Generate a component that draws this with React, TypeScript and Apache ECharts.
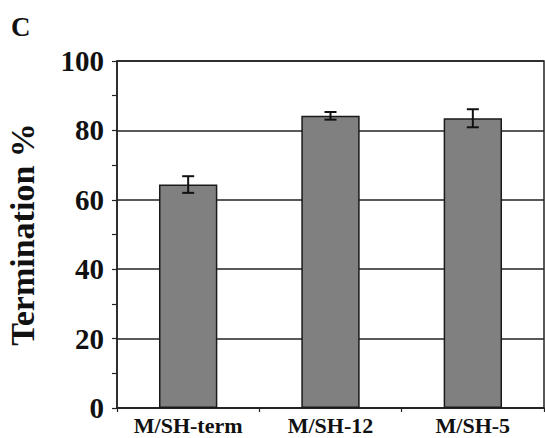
import React, { useEffect, useRef } from "react";
import * as echarts from "echarts";

const categories = ["M/SH-term", "M/SH-12", "M/SH-5"];
const values = [64.4, 84.2, 83.5];
const errors = [2.4, 1.1, 2.6];
const yTicks = [0, 20, 40, 60, 80, 100];

const FONT = "'Liberation Serif', 'Times New Roman', serif";

export default function App() {
  const ref = useRef<HTMLDivElement>(null);
  useEffect(() => {
    document.body.style.margin = "0";
    if (!ref.current) return;
    const chart = echarts.init(ref.current, null, { renderer: "svg" });
    const errData = categories.map((c, i) => [i, values[i] - errors[i], values[i] + errors[i]]);
    chart.setOption({
      animation: false,
      backgroundColor: "#ffffff",
      graphic: [
        {
          type: "text",
          left: 11,
          top: 13,
          style: { text: "C", font: `bold 27px ${FONT}`, fill: "#111" },
        },
      ],
      grid: {
        left: 117,
        top: 61,
        right: 1,
        bottom: 30,
        show: true,
        borderColor: "#222",
        borderWidth: 1.5,
        backgroundColor: "transparent",
        containLabel: false,
        outerBoundsMode: "none",
      },
      xAxis: {
        type: "category",
        data: categories,
        axisLine: { lineStyle: { color: "#222", width: 1.5 } },
        axisTick: { show: true, length: 4, alignWithLabel: false, lineStyle: { color: "#222", width: 1.2 } },
        axisLabel: {
          interval: 0,
          margin: 6,
          fontFamily: FONT,
          fontWeight: "bold",
          fontSize: 22,
          color: "#111",
        },
      },
      yAxis: {
        type: "value",
        min: yTicks[0],
        max: yTicks[yTicks.length - 1],
        interval: 20,
        name: "Termination %",
        nameLocation: "middle",
        nameRotate: 90,
        nameGap: 78,
        nameTextStyle: { fontFamily: FONT, fontWeight: "bold", fontSize: 34, color: "#111" },
        axisLine: { show: true, lineStyle: { color: "#222", width: 1.5 } },
        axisTick: { show: true, length: 5, lineStyle: { color: "#222", width: 1.2 } },
        minorTick: { show: true, splitNumber: 2, length: 5, lineStyle: { color: "#222", width: 1.2 } },
        splitLine: { show: true, lineStyle: { color: "#222", width: 1.5 } },
        axisLabel: {
          margin: 13,
          fontFamily: FONT,
          fontWeight: "bold",
          fontSize: 29,
          color: "#111",
        },
      },
      series: [
        {
          type: "bar",
          data: values,
          barWidth: "41%",
          itemStyle: { color: "#808080", borderColor: "#1a1a1a", borderWidth: 1.5 },
          z: 3,
        },
        {
          type: "custom",
          data: errData,
          encode: { x: 0, y: [1, 2] },
          z: 5,
          renderItem: (params: any, api: any) => {
            const x = api.value(0);
            const lo = api.coord([x, api.value(1)]);
            const hi = api.coord([x, api.value(2)]);
            const hw = 6;
            const style = { stroke: "#111", lineWidth: 2 };
            return {
              type: "group",
              children: [
                { type: "line", shape: { x1: lo[0], y1: lo[1], x2: hi[0], y2: hi[1] }, style },
                { type: "line", shape: { x1: lo[0] - hw, y1: lo[1], x2: lo[0] + hw, y2: lo[1] }, style },
                { type: "line", shape: { x1: hi[0] - hw, y1: hi[1], x2: hi[0] + hw, y2: hi[1] }, style },
              ],
            };
          },
        },
      ],
    });
    return () => chart.dispose();
  }, []);
  return <div ref={ref} style={{ width: 545, height: 438 }} />;
}
